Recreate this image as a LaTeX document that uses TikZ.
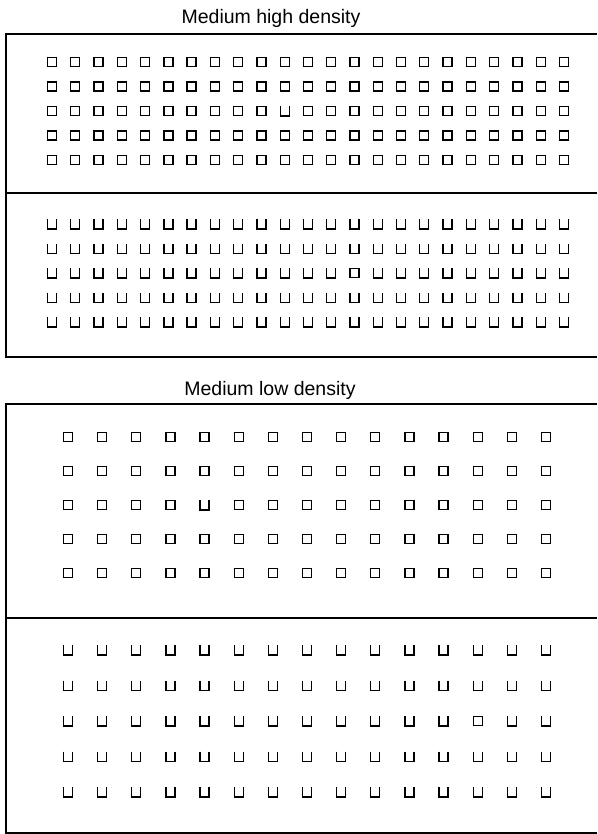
\documentclass[tikz,border=0pt]{standalone}
\usepackage{fontspec}
\setmainfont{Liberation Sans}
\begin{document}
\begin{tikzpicture}[x=1pt,y=-1pt,
  frame/.style={line width=1.6pt},
  sym/.style={line width=1.3pt},
  ttl/.style={font=\fontsize{19.5}{22}\selectfont, anchor=base, inner sep=0pt},
  sqr/.pic={\draw[sym] (-4.5,-4.5) rectangle (4.5,4.5);},
  cup/.pic={\draw[sym] (-4.5,-5) -- (-4.5,5) -- (4.5,5) -- (4.5,-5);}]
\useasboundingbox (0,0) rectangle (597,834);
% titles
\node[ttl] (t1) at (271,24) {Medium high density};
\node[ttl] (t2) at (270,395) {Medium low density};
% frames
\draw[frame] (597,34) -- (6,34) -- (6,357) -- (597,357);
\draw[frame] (6,193) -- (597,193);
\draw[frame] (597,404) -- (6,404) -- (6,833) -- (597,833);
\draw[frame] (6,618) -- (597,618);
% high density squares
\foreach \r in {0,...,4} \foreach \c in {0,...,22} {
  \pgfmathsetmacro\xx{52+23.27*\c}
  \pgfmathsetmacro\yy{62+24.5*\r}
  \pgfmathtruncatemacro\odd{and(\r==2,\c==10)}
  \ifnum\odd=1 \pic at (\xx,\yy) {cup}; \else \pic at (\xx,\yy) {sqr}; \fi
}
% high density cups
\foreach \r in {0,...,4} \foreach \c in {0,...,22} {
  \pgfmathsetmacro\xx{52+23.27*\c}
  \pgfmathsetmacro\yy{224+24.5*\r}
  \pgfmathtruncatemacro\odd{and(\r==2,\c==13)}
  \ifnum\odd=1 \pic at (\xx,\yy) {sqr}; \else \pic at (\xx,\yy) {cup}; \fi
}
% low density squares
\foreach \r in {0,...,4} \foreach \c in {0,...,14} {
  \pgfmathsetmacro\xx{68+34.14*\c}
  \pgfmathsetmacro\yy{437+34*\r}
  \pgfmathtruncatemacro\odd{and(\r==2,\c==4)}
  \ifnum\odd=1 \pic at (\xx,\yy) {cup}; \else \pic at (\xx,\yy) {sqr}; \fi
}
% low density cups
\foreach \r in {0,...,4} \foreach \c in {0,...,14} {
  \pgfmathsetmacro\xx{68+34.14*\c}
  \pgfmathsetmacro\yy{650+35.5*\r}
  \pgfmathtruncatemacro\odd{and(\r==2,\c==12)}
  \ifnum\odd=1 \pic at (\xx,\yy) {sqr}; \else \pic at (\xx,\yy) {cup}; \fi
}
\end{tikzpicture}
\end{document}
